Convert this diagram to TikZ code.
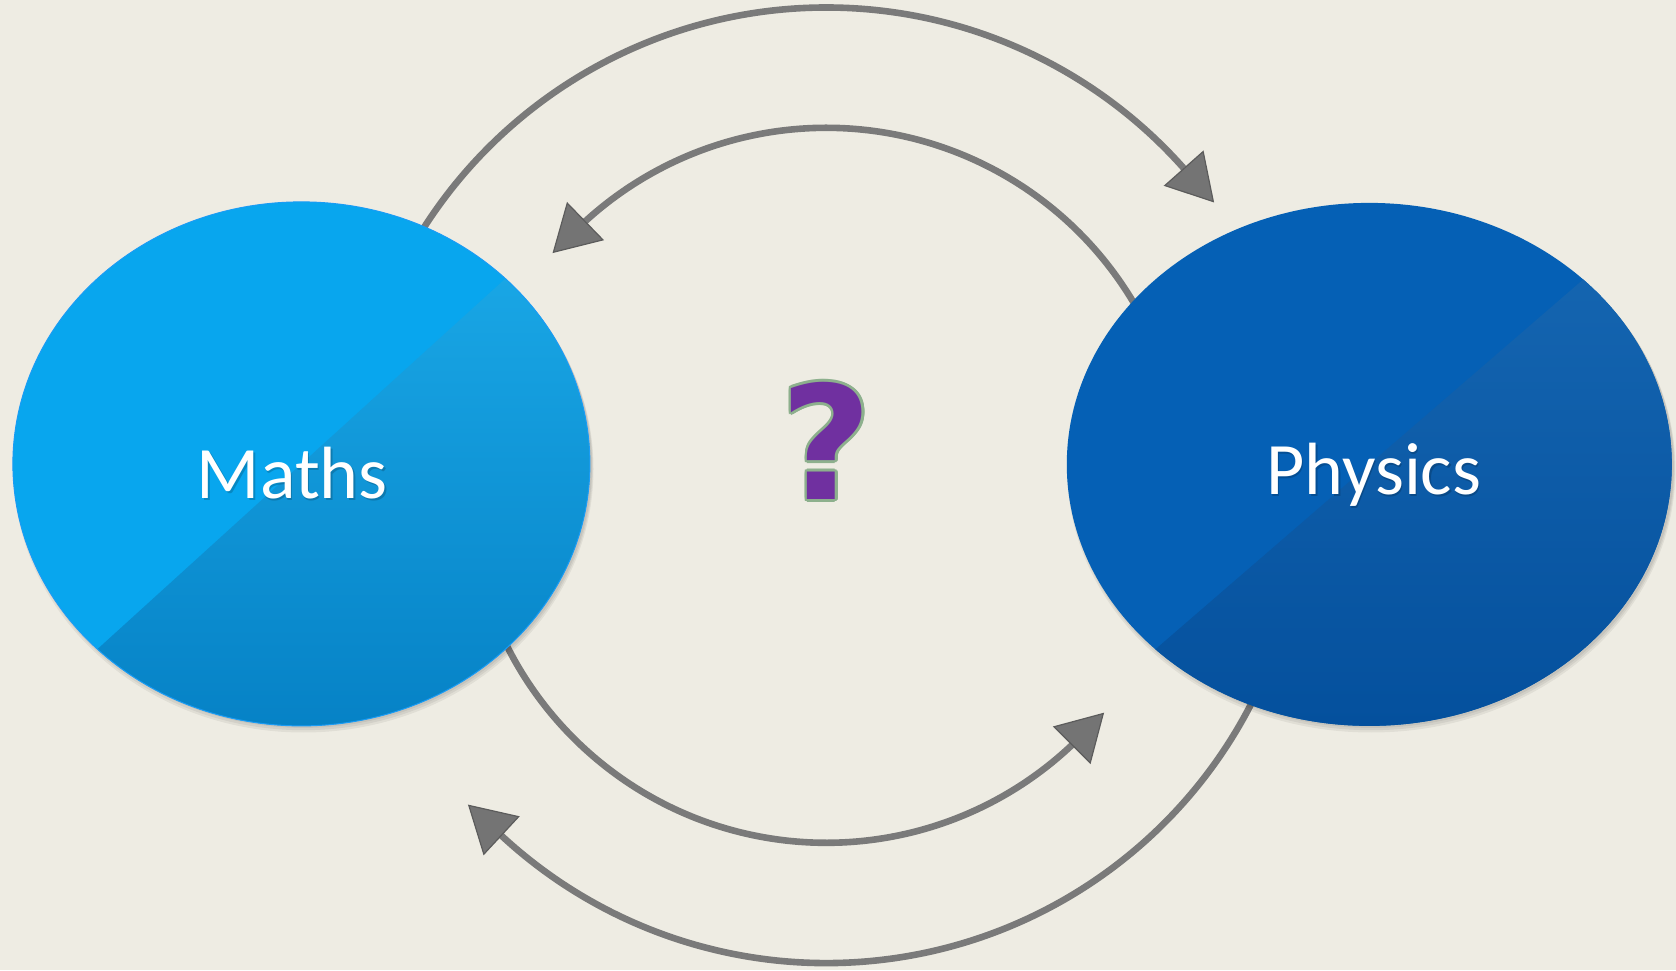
\documentclass[tikz,border=0pt]{standalone}
\usepackage{fontspec}
\setmainfont{Carlito}
\newfontfamily\qfont{DejaVu Sans}
\usetikzlibrary{arrows.meta,shapes.geometric}
\definecolor{bg}{HTML}{EEECE3}
\definecolor{mathsbase}{HTML}{08A6EE}
\definecolor{mathsedge}{HTML}{1A9CF5}
\definecolor{mathsovtop}{HTML}{1CACEA}
\definecolor{mathsovbot}{HTML}{0682C6}
\definecolor{physbase}{HTML}{0560B5}
\definecolor{physovtop}{HTML}{1768B3}
\definecolor{physovbot}{HTML}{04509D}
\definecolor{linegray}{HTML}{7A7A7A}
\definecolor{tipfill}{HTML}{747474}
\definecolor{tipedge}{HTML}{5C5C5C}
\definecolor{qpurple}{HTML}{7030A0}
\definecolor{qgreen}{HTML}{8DB08D}
\newcommand\qoutline[3]{%
  \leavevmode
  \foreach \qa in {0,22.5,...,337.5}{%
    \pgfmathsetlengthmacro\qdx{#2*cos(\qa)}%
    \pgfmathsetlengthmacro\qdy{#2*sin(\qa)}%
    \rlap{\hspace*{\qdx}\raisebox{\qdy}{\color{#1}#3}}%
  }%
  #3}
\tikzset{
  conn/.style={draw=linegray, line width=6.6pt,
    -{Triangle[length=46pt,width=53pt,color=tipedge,fill=tipfill,line width=1.2pt]}},
  blob/.style={ellipse, inner sep=0pt},
  lbl/.style={text=white, font=\fontsize{74}{84}\selectfont, inner sep=0pt, anchor=base},
  lblshadow/.style={text=black, text opacity=0.18, font=\fontsize{74}{84}\selectfont, inner sep=0pt, anchor=base},
  qmark/.style={text=qpurple, font=\qfont\bfseries\fontsize{158}{180}\selectfont, inner sep=0pt, anchor=base},
  softshadow/.style={fill=black, opacity=0.06}
}
\begin{document}
\begin{tikzpicture}[x=1pt,y=1pt]
\useasboundingbox[fill=bg] (0,0) rectangle (1676,970);
\coordinate (ctr) at (826.3,484.7);
% connectors (drawn beneath the ellipses)
\coordinate (a1s) at ([shift={(150:477.8pt)}]ctr);
\coordinate (a1t) at ([shift={(36.1:480pt)}]ctr);
\coordinate (a2s) at ([shift={(28:357.5pt)}]ctr);
\coordinate (a2t) at ([shift={(139.7:359pt)}]ctr);
\coordinate (a3s) at ([shift={(203:357.5pt)}]ctr);
\coordinate (a3t) at ([shift={(320.7:359pt)}]ctr);
\coordinate (a4s) at ([shift={(335:477.8pt)}]ctr);
\coordinate (a4t) at ([shift={(221.7:480pt)}]ctr);
\draw[conn] (a1s) arc[start angle=150, end angle=41.6, radius=477.8pt] -- (a1t);
\draw[conn] (a2s) arc[start angle=28, end angle=132.3, radius=357.5pt] -- (a2t);
\draw[conn] (a3s) arc[start angle=203, end angle=313.3, radius=357.5pt] -- (a3t);
\draw[conn] (a4s) arc[start angle=335, end angle=227.2, radius=477.8pt] -- (a4t);
% soft shadows
\foreach \k in {0,1,2}{
  \fill[softshadow] (303.4,506.1-2-1.5*\k) ellipse [x radius=288.5pt+\k*0.8pt, y radius=262pt+\k*0.8pt];
  \fill[softshadow] (1371.3,505.6-2-1.5*\k) ellipse [x radius=302.5pt+\k*0.8pt, y radius=261.5pt+\k*0.8pt];
}
% ellipses
\node[blob, minimum width=577pt, minimum height=524pt, fill=mathsbase, draw=mathsedge, line width=1pt,
  path picture={\shade[top color=mathsovtop, bottom color=mathsovbot]
    (path picture bounding box.south west) -- (path picture bounding box.south east)
    -- (path picture bounding box.north east) -- cycle;}] (maths) at (301.4,506.1) {};
\node[blob, minimum width=605pt, minimum height=523pt, fill=physbase,
  path picture={\shade[top color=physovtop, bottom color=physovbot]
    (path picture bounding box.south west) -- (path picture bounding box.south east)
    -- (path picture bounding box.north east) -- cycle;}] (physics) at (1369.3,505.6) {};
% labels
\node[lblshadow] (mathsshadow) at (293.8,469.8) {Maths};
\node[lbl] (mathslbl) at (292.3,471.5) {Maths};
\node[lblshadow] (physshadow) at (1375.3,473.8) {Physics};
\node[lbl] (physlbl) at (1373.8,475.5) {Physics};
% question mark
\node[qmark] (q) at (826.5,470.5) {\qoutline{qgreen}{2.6pt}{?}};
\end{tikzpicture}
\end{document}
